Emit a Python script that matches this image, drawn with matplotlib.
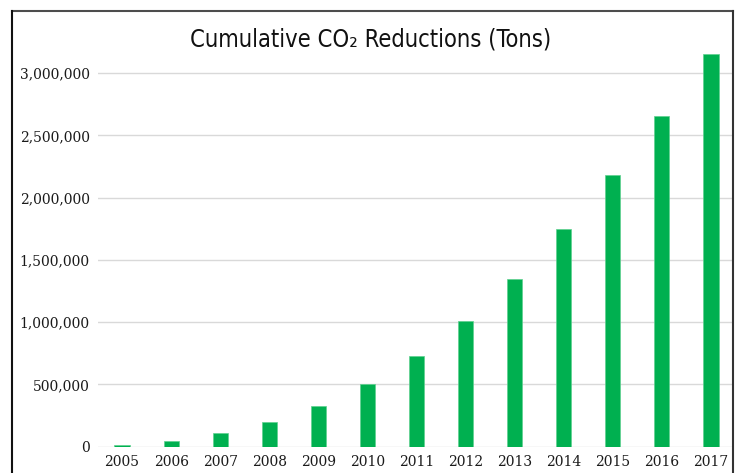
import matplotlib.pyplot as plt
from matplotlib.lines import Line2D
from matplotlib.ticker import FuncFormatter

years = ["2005", "2006", "2007", "2008", "2009", "2010", "2011",
         "2012", "2013", "2014", "2015", "2016", "2017"]
reductions = [12000, 42000, 107000, 196000, 325000, 505000, 728000,
              1009000, 1349000, 1745000, 2181000, 2654000, 3152000]
y_ticks = [0, 500000, 1000000, 1500000, 2000000, 2500000, 3000000]

W, H = 738, 473
fig = plt.figure(figsize=(W / 100, H / 100), dpi=100)
ax = fig.add_axes([98 / W, 26.3 / H, 635 / W, 398.4 / H])

x = range(len(years))
ax.bar(x, reductions, width=0.31, color="#00b050", edgecolor="#5fd08f",
       linewidth=0.5, zorder=3)

ax.set_xlim(-0.49, 12.45)
ax.set_ylim(0, 3200000)
ax.set_xticks(list(x))
ax.set_xticklabels(years)
ax.set_yticks(y_ticks)
ax.yaxis.set_major_formatter(FuncFormatter(lambda v, p: f"{int(v):,}"))
ax.grid(axis="y", color="#d9d9d9", lw=1, zorder=0)
ax.tick_params(length=0, labelsize=10, labelcolor="#1a1a1a")
ax.tick_params(axis="y", pad=6)
ax.tick_params(axis="x", pad=6)
for lab in ax.get_xticklabels() + ax.get_yticklabels():
    lab.set_family("DejaVu Serif")
for s in ax.spines.values():
    s.set_visible(False)

fig.text(371 / W, 1 - 39 / H, "Cumulative CO\u2082 Reductions (Tons)",
         ha="center", va="center", fontsize=17, family="DejaVu Sans",
         stretch="condensed", color="#111111")

# outer frame
fig.add_artist(Line2D([12.5 / W, 733 / W], [1 - 11 / H, 1 - 11 / H],
                      transform=fig.transFigure, color="#4d4d4d", lw=1.5))
fig.add_artist(Line2D([12.5 / W, 12.5 / W], [0, 1 - 11 / H],
                      transform=fig.transFigure, color="#111111", lw=1.5))
fig.add_artist(Line2D([733 / W, 733 / W], [0, 1 - 11 / H],
                      transform=fig.transFigure, color="#333333", lw=1.5))

fig.savefig("out.png", dpi=100)
